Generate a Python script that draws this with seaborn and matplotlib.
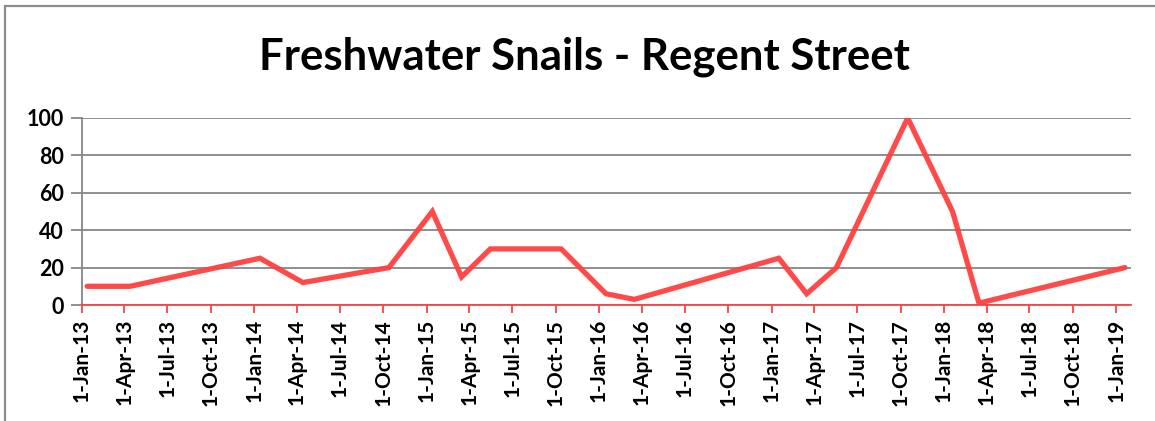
import numpy as np
import pandas as pd
import matplotlib
matplotlib.use("Agg")
import matplotlib.pyplot as plt
import matplotlib.dates as mdates
from matplotlib.patches import Rectangle
import seaborn as sns

# survey dates and counts
dates = [
    "2013-01-12", "2013-04-13", "2014-01-13", "2014-04-14", "2014-10-13",
    "2015-01-13", "2015-03-16", "2015-05-16", "2015-10-13", "2016-01-16",
    "2016-03-16", "2017-01-16", "2017-03-16", "2017-05-18", "2017-10-16",
    "2018-01-19", "2018-03-16", "2019-01-19",
]
counts = [10, 10, 25, 12, 20, 50, 15, 30, 30, 6, 3, 25, 6, 20, 100, 50, 1, 20]
y_ticks = [0, 20, 40, 60, 80, 100]
title = "Freshwater Snails - Regent Street"

df = pd.DataFrame({"date": pd.to_datetime(dates), "count": counts})

sns.set_theme(style="white")
plt.rcParams["font.family"] = ["Lato", "DejaVu Sans"]

W, H = 1155, 421
fig = plt.figure(figsize=(W / 100, H / 100), dpi=100)
ax = fig.add_axes([82 / W, 1 - 305 / H, (1131 - 82) / W, (305 - 118) / H])

line_red = "#ff4040"
grid_grey = "#868686"

sns.lineplot(data=df, x="date", y="count", ax=ax, color=line_red, lw=3.8,
             alpha=0.95, solid_joinstyle="miter", zorder=3)

ax.set_xlim(pd.Timestamp("2013-01-01"), pd.Timestamp("2019-02-01"))
ax.set_ylim(0, 100)
ax.set_yticks(y_ticks)
ax.yaxis.grid(True, color=grid_grey, lw=1.3)
ax.xaxis.grid(False)

ax.xaxis.set_major_locator(mdates.MonthLocator(bymonth=[1, 4, 7, 10]))
ax.xaxis.set_major_formatter(mdates.DateFormatter("1-%b-%y"))

for s in ["top", "right"]:
    ax.spines[s].set_visible(False)
ax.spines["left"].set_color(grid_grey)
ax.spines["left"].set_linewidth(1.3)
ax.spines["bottom"].set_color(line_red)
ax.spines["bottom"].set_linewidth(1.3)

ax.tick_params(axis="y", length=8, width=1.3, color=grid_grey, pad=5,
               labelsize=15.5, left=True)
ax.tick_params(axis="x", length=6, width=1.3, color=line_red, pad=4,
               labelsize=15, labelrotation=90, bottom=True)
for lab in ax.get_xticklabels() + ax.get_yticklabels():
    lab.set_fontweight("bold")
    lab.set_color("black")

ax.set_xlabel("")
ax.set_ylabel("")

fig.text(0.506, 1 - 57 / H, title, ha="center", va="center",
         fontsize=31.5, fontweight="bold", color="black")

# chart frame, cut off on the right and bottom like the screenshot
fig.add_artist(Rectangle((5 / W, -0.2), 1.5, 1.2 - 6 / H, fill=False,
                         edgecolor="#8c8c8c", lw=1.6, transform=fig.transFigure))

fig.savefig("out.png", dpi=100)
